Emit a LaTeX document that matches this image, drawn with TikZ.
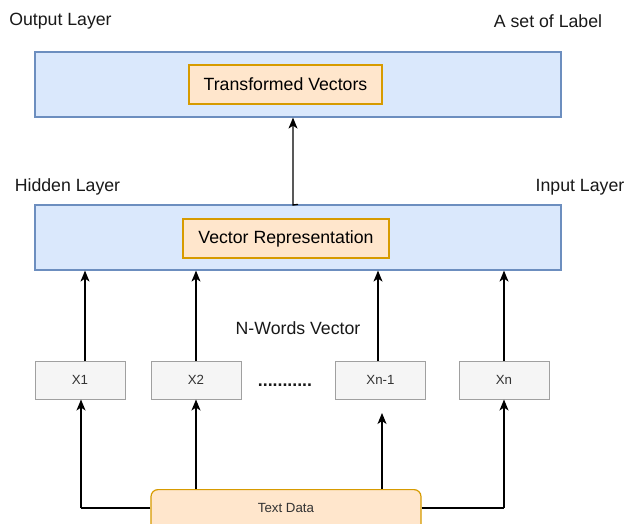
\documentclass[tikz,border=0pt]{standalone}
\usepackage{fontspec}
\setmainfont{Liberation Sans}
\usetikzlibrary{arrows.meta}
\definecolor{bluefill}{HTML}{DAE8FC}
\definecolor{bluestroke}{HTML}{6C8EBF}
\definecolor{orfill}{HTML}{FFE6CC}
\definecolor{orstroke}{HTML}{D79B00}
\definecolor{grfill}{HTML}{F5F5F5}
\definecolor{grstroke}{HTML}{A0A0A0}
\definecolor{grtext}{HTML}{333333}
\tikzset{
  big/.style={font=\fontsize{17.7}{20}\selectfont},
  small/.style={font=\fontsize{13.3}{15}\selectfont},
  layerbox/.style={draw=bluestroke, fill=bluefill, line width=1.2pt, inner sep=0pt, minimum width=526pt, minimum height=65pt},
  orbox/.style={draw=orstroke, fill=orfill, line width=1.2pt, inner sep=0pt, minimum height=39pt, big},
  xbox/.style={draw=grstroke, fill=grfill, line width=1pt, inner sep=0pt, minimum width=90pt, minimum height=38pt, small, text=grtext},
  lbl/.style={inner sep=0pt, big, text=black!90},
  arr/.style={line width=1.3pt, -{Stealth[length=11pt,width=9pt,inset=3pt]}},
}
\begin{document}
\begin{tikzpicture}[x=1pt,y=-1pt]
\clip (0,0) rectangle (626,524);
\fill[white] (0,0) rectangle (626,524);
% labels
\node[lbl] (lo) at (60.5,21) {Output Layer};
\node[lbl] (ls) at (548,21) {A set of Label};
\node[lbl] (lh) at (67.5,187) {Hidden Layer};
\node[lbl] (li) at (580,187) {Input Layer};
\node[lbl] (ln) at (298,328) {N-Words Vector};
\node[lbl, anchor=base, font=\fontsize{17.7}{20}\selectfont\bfseries] (dots) at (285,386) {...........};
% layer boxes
\node[layerbox] (out) at (298,84.5) {};
\node[orbox, minimum width=193pt] (tv) at (285.5,84.5) {Transformed Vectors};
\node[layerbox] (hid) at (298,237.5) {};
\node[orbox, minimum width=206pt] (vr) at (286,238.5) {Vector Representation};
% word boxes
\node[xbox] (x1) at (80,380) {X1};
\node[xbox] (x2) at (196,380) {X2};
\node[xbox] (xn1) at (380.5,380) {Xn-1};
\node[xbox] (xn) at (504,380) {Xn};
% text data
\node[draw=orstroke, fill=orfill, line width=1.2pt, rounded corners=7pt, inner sep=0pt, minimum width=270pt, minimum height=80pt, anchor=north, small, text=grtext] (td) at (286,489) {};
\node[small, text=grtext, inner sep=0pt] (tdl) at (286,508) {Text Data};
% hidden to output
\coordinate (j) at (293,205);
\draw[arr] (hid.north) -- (j) -- (j |- out.south);
% word boxes to hidden
\coordinate (a1) at (85,361);
\coordinate (a2) at (196,361);
\coordinate (a3) at (378,361);
\coordinate (a4) at (504,361);
\draw[arr] (a1) -- (a1 |- hid.south);
\draw[arr] (a2) -- (a2 |- hid.south);
\draw[arr] (a3) -- (a3 |- hid.south);
\draw[arr] (a4) -- (a4 |- hid.south);
% text data to word boxes
\coordinate (tl) at (td.west |- tdl);
\coordinate (tr) at (td.east |- tdl);
\coordinate (b1) at (81,508);
\coordinate (b4) at (504,508);
\coordinate (t2) at (196,489);
\coordinate (t3) at (382,489);
\coordinate (e3) at (382,413);
\draw[line width=1.3pt] (tl) -- (b1);
\draw[arr] (b1) -- (b1 |- x1.south);
\draw[arr] (t2) -- (t2 |- x2.south);
\draw[arr] (t3) -- (e3);
\draw[line width=1.3pt] (tr) -- (b4);
\draw[arr] (b4) -- (b4 |- xn.south);
\end{tikzpicture}
\end{document}
